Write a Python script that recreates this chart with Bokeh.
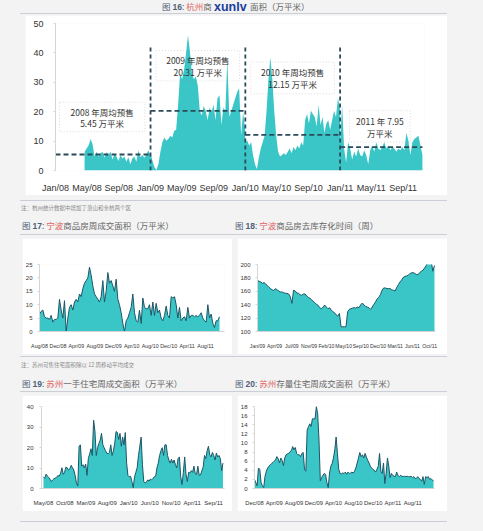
import numpy as np
import pandas as pd
from bokeh.plotting import figure
from bokeh.models import Range1d, FixedTicker, Div, Label, BoxAnnotation
from bokeh.layouts import column, row
from bokeh.embed import file_html
from bokeh.resources import INLINE

# ---------------- data ----------------
# Fig 16: Hangzhou weekly pre-sale area (10k m2), by year segment
HZ_2008 = [6.4, 7.5, 8.5, 10.7, 9, 4.8, 6.4, 4.8, 5.9, 6.4, 4.3, 6.2, 5.3, 6.4, 3.7, 5.6, 4.8, 3.2, 5.3, 4.1,
           4.8, 3, 4.5, 2.1, 4.1, 4.8, 3, 6.9, 4.5, 5.3, 4.3, 5.3, 6.9, 5.3]
HZ_2009 = [5.9, 3.2, 1.1, 0.2, 2.1, 6.4, 9.6, 11.2, 10.1, 10.7, 11.8, 11.2, 13.4, 13.9, 22.4, 33, 31, 34.2, 39.5, 46,
           40.6, 33, 31, 32, 28.8, 20.3, 18.7, 21.9, 20.3, 17.1, 21.4, 19.8, 22.4, 17.1, 24.6, 25.6, 15.5, 21.4, 20.3, 37.9,
           18.2, 20.3, 22.4, 24.6, 26.7, 28, 12, 20, 14]
HZ_2010 = [9.6, 10.1, 8.5, 9.6, 5.3, 2.1, 0.5, 4.3, 7.5, 9.6, 11.8, 20.3, 31, 38.5, 31, 20.3, 11.8, 6.4, 4.8, 5.3,
           5.9, 5.3, 6.4, 7.5, 5.9, 8, 6.9, 8.5, 7.5, 9.6, 8.5, 17.1, 19.2, 16, 20.3, 19.2, 18.2, 15, 22.4, 15.5,
           18.2, 12.8, 16, 17.1, 13.9, 17.1, 20.3, 18.2, 24.6, 21.4]
HZ_2011 = [9.6, 22.4, 7.5, 2.7, 9.6, 7.5, 3.7, 6.4, 4.8, 7.5, 5.3, 4.8, 6.9, 5.3, 2.1, 6.9, 8.5, 6.4, 9.6, 7.5,
           6.9, 8, 9.6, 7.5, 8.5, 6.9, 8, 7.5, 6.4, 7.5, 6.9, 8, 6.9, 12.8, 10.1, 5.3, 9.6, 10.7, 11.2, 11.8, 8.5, 5.3]
HZ_SEG_START = ["2008-04-22", "2009-01-01", "2010-01-01", "2011-01-01"]
HZ_SEG_END = ["2008-12-31", "2009-12-31", "2010-12-31", "2011-11-14"]
HZ_YEAR_START = ["2008-01-01", "2009-01-01", "2010-01-01", "2011-01-01"]
HZ_YEAR_END = ["2009-01-01", "2010-01-01", "2011-01-01", "2011-11-14"]
HZ_AVG = [5.45, 20.31, 12.15, 7.95]
HZ_AVG_TEXT1 = ["2008 年周均预售", "2009 年周均预售", "2010 年周均预售", "2011 年 7.95"]
HZ_AVG_TEXT2 = ["5.45 万平米", "20.31 万平米", "12.15 万平米", "万平米"]
HZ_TICKS = ["Jan/08", "May/08", "Sep/08", "Jan/09", "May/09", "Sep/09", "Jan/10", "May/10", "Sep/10",
            "Jan/11", "May/11", "Sep/11"]

# Fig 17: Ningbo weekly transaction area
NB_SALES = [6.5, 7.5, 8, 5.5, 5, 5, 4.5, 6, 3.5, 4.5, 4.5, 5, 12, 8, 5, 11.5, 0, 5, 9, 10, 8, 11, 12, 11, 14, 13, 16,
            18, 19, 20, 24, 21, 17, 14, 13, 12, 11, 13, 19, 11, 15, 22, 18, 19, 17, 15, 19.5, 12, 10, 7, 3, 0, 4, 5, 7,
            9, 14, 7, 4, 3.5, 8, 3, 12.5, 9, 8.5, 8.5, 10, 6, 11, 6, 10.5, 7, 8, 5, 4, 6, 9.5, 6, 5, 13, 12.5, 13, 10,
            5, 9, 4, 5, 5.5, 4, 9, 5, 6, 6, 5.5, 6, 5.5, 6, 7, 5, 4, 3.5, 10, 5, 6.5, 3, 1.5, 4, 4, 5.5]
NB_TICKS = ["Aug/08", "Dec/08", "Apr/09", "Aug/09", "Dec/09", "Apr/10", "Aug/10", "Dec/10", "Apr/11", "Aug/11"]

# Fig 18: Ningbo de-stocking time (weeks)
NB_WEEKS = [176, 175, 174, 172, 173, 171, 168.5, 166, 164, 162, 161.5, 164, 162, 160.5, 159, 159, 158, 157, 157, 156,
            152, 142, 161.5, 160.5, 157.5, 157, 155, 154, 156, 156, 153, 151, 149.5, 147.5, 145, 143, 140.5, 139,
            135.5, 134, 136.5, 139.5, 136.5, 134, 135.5, 132, 129.5, 128, 125, 123, 127, 107, 107, 107, 107, 129.5,
            133, 134, 135, 135.5, 135, 136.5, 135.5, 140, 142.5, 139.5, 137.5, 136.5, 135.5, 133, 136.5, 140.5, 144,
            148.5, 151, 155, 161.5, 165, 165, 164, 164, 164, 162, 161.5, 160.5, 166, 170, 174, 177, 181, 182, 183, 184,
            186.5, 187.5, 188, 186.5, 185, 185, 188, 190, 191.5, 195, 198.5, 205, 205, 205, 190, 198.5]
NB_WEEK_TICKS = ["Jan/09", "Apr/09", "Jul/09", "Nov/09", "Feb/10", "May/10", "Sep/10", "Dec/10", "Mar/11", "Jun/11",
                 "Oct/11"]
NB_WEEK_TICK_DATES = ["2009-01-05", "2009-04-15", "2009-07-25", "2009-11-03", "2010-02-12", "2010-05-24",
                      "2010-09-01", "2010-12-11", "2011-03-21", "2011-06-30", "2011-10-09"]

# Fig 19: Suzhou new-home weekly transaction area
SZ_NEW = [5.7, 5, 7, 6, 5.4, 4.5, 3.4, 4.2, 4.8, 5, 5.7, 6.3, 6, 7.5, 10.1, 6.9, 7.9, 10.4, 10.1, 9, 9.6, 11.3, 10.1,
          9, 6.4, 2.7, 1.2, 20.6, 21.3, 10.9, 11.6, 10.1, 11.9, 6.4, 14.6, 16.9, 19.4, 16.1, 33.3, 28, 16.1, 19.9, 22,
          23.6, 26.9, 21.3, 19.9, 18.4, 17.3, 16.9, 17.6, 21.3, 16.1, 18.4, 22, 27.8, 27.3, 23.9, 26.9, 20.6, 25.1,
          21.3, 27.3, 12.4, 6.4, 5.7, 6, 3.4, 0.4, 5.7, 7.9, 10.1, 16.1, 20.6, 25.1, 11.6, 3.4, 2.7, 3.1, 4.2, 3.6,
          4.6, 4.2, 4.9, 5.7, 6, 10.1, 12.4, 16.1, 18.4, 19.9, 16.1, 21.3, 21.3, 16.1, 13.9, 12.4, 14.3, 12.4, 13.9,
          11.6, 10.1, 14.6, 15.4, 5.7, 1.9, 7.9, 15.4, 6.9, 3.4, 7.9, 7.5, 8.7, 7.9, 10.9, 7.2, 6.9, 10.9, 6.4, 6.6,
          8.7, 10.4, 16.1, 14.6, 18.4, 20.6, 16.4, 15.4, 17.6, 16.1, 13.9, 17.3, 15.4, 16.1, 14.6, 8.7, 12.4]
SZ_NEW_TICKS = ["May/08", "Oct/08", "Mar/09", "Aug/09", "Jan/10", "Jun/10", "Nov/10", "Apr/11", "Sep/11"]

# Fig 20: Suzhou resale weekly transaction area
SZ_OLD = [2, 1.3, 0.6, 4.5, 4.2, 1.3, 0.6, 0.2, 2.7, 3.8, 4.5, 4.9, 5.2, 5.5, 5.7, 6, 6.3, 7, 6.5, 5.6, 6.7, 6.2, 5,
          6.7, 7.4, 7.6, 7.7, 8.1, 8.3, 9.2, 8.5, 9, 7.7, 7.4, 7.4, 7, 7.7, 7.9, 4.2, 3.8, 12.8, 13.6, 14.2, 13.6,
          15.3, 15.3, 15.3, 18, 16.4, 10.6, 1.7, 2.4, 2.9, 3.3, 3.1, 1.3, 0.2, 3.4, 4.9, 5.5, 6.7, 8.5, 11.3, 7.7,
          4.2, 3.3, 3.2, 3.4, 3.3, 3.6, 3.1, 3.6, 3.3, 3.4, 3.6, 3.4, 3.8, 4.5, 5.6, 6.7, 7.9, 7, 7.4, 6.7, 7.7, 6.9,
          6.2, 5.6, 4.9, 4.5, 4.2, 4, 3.6, 4.2, 4.9, 7.7, 3.8, 3.3, 5.6, 1.1, 3.3, 6.7, 4.9, 2.4, 3.3, 2.9, 2.7, 2.6,
          3.6, 2.9, 2.6, 2.9, 2.7, 2.6, 2.7, 2.6, 2.7, 2.6, 2.6, 2.7, 2.4, 2.6, 2.2, 2.2, 2.6, 2.2, 2, 1.6, 2.6, 0.9,
          2.6, 2.4, 2.6, 2, 2.2, 1.9, 1.6]
SZ_OLD_TICKS = ["Dec/08", "Apr/09", "Aug/09", "Dec/09", "Apr/10", "Aug/10", "Dec/10", "Apr/11", "Aug/11"]

# ---------------- helpers ----------------
ORIGIN = pd.Timestamp("2008-01-01")
TEAL = "#3ac6c7"
EDGE = "#1d5666"
DASHC = "#2b4a5a"
AX = "#d5d5d5"
NUMF = "Liberation Sans"
CJK = "Noto Sans CJK SC"


def days(d):
    return (pd.Timestamp(d) - ORIGIN) / pd.Timedelta(days=1)


def spread(vals, start, end):
    return np.linspace(days(start), days(end), len(vals))


def mticks(labels):
    return [int(round(days(pd.to_datetime(l, format="%b/%y")))) for l in labels]


def base_fig(w, h, xr, yr, bl, br, bt, bb, ml):
    p = figure(width=w, height=h, x_range=Range1d(*xr), y_range=Range1d(*yr),
               output_backend="svg", toolbar_location=None,
               min_border_left=bl, min_border_right=br, min_border_top=bt, min_border_bottom=bb,
               background_fill_color="white", border_fill_color="white", outline_line_color=None,
               margin=(0, 0, 0, ml))
    p.xgrid.visible = False
    p.ygrid.visible = False
    return p


def style_axes(p, xt, xl, yt, fs, ystand, xstand, xline=AX, xfs=None):
    p.xaxis.ticker = FixedTicker(ticks=xt, minor_ticks=[])
    p.xaxis.major_label_overrides = {t: l for t, l in zip(xt, xl)}
    p.xaxis.axis_line_color = xline
    p.xaxis.major_tick_line_color = None
    p.xaxis.minor_tick_line_color = None
    p.xaxis.major_label_text_font = NUMF
    p.xaxis.major_label_text_font_size = xfs or fs
    p.xaxis.major_label_text_color = "#333333"
    p.xaxis.major_label_standoff = xstand
    p.yaxis.ticker = FixedTicker(ticks=yt, minor_ticks=[])
    p.yaxis.axis_line_color = AX
    p.yaxis.major_tick_line_color = AX
    p.yaxis.major_tick_out = 2
    p.yaxis.major_tick_in = 0
    p.yaxis.minor_tick_line_color = None
    p.yaxis.major_label_text_font = NUMF
    p.yaxis.major_label_text_font_size = fs
    p.yaxis.major_label_text_color = "#333333"
    p.yaxis.major_label_standoff = ystand


# ---------------- Fig 16 ----------------
hz_x = np.concatenate([spread(v, s, e) for v, s, e in zip([HZ_2008, HZ_2009, HZ_2010, HZ_2011], HZ_SEG_START, HZ_SEG_END)])
hz_y = np.concatenate([HZ_2008, HZ_2009, HZ_2010, HZ_2011])
p16 = base_fig(422, 180, (0, days("2011-11-22")), (0, 50), 30, 23, 8, 20, 25)
p16.varea(x=hz_x, y1=0, y2=hz_y, fill_color=TEAL)
p16.segment(x0=[days(d) for d in HZ_YEAR_START], x1=[days(d) for d in HZ_YEAR_END], y0=HZ_AVG, y1=HZ_AVG,
            line_color=DASHC, line_width=1.8, line_dash="5 3")
p16.segment(x0=[days(d) for d in HZ_YEAR_START[1:]], x1=[days(d) for d in HZ_YEAR_START[1:]], y0=0, y1=42.4,
            line_color=DASHC, line_width=1.8, line_dash="4 3")
BOX_L = ["2008-01-16", "2009-01-22", "2010-01-22", "2011-02-06"]
BOX_R = ["2008-12-10", "2009-12-10", "2010-12-10", "2011-09-28"]
BOX_B = [13.2, 30.5, 26.1, 9.7]
BOX_T = [23.2, 40.8, 36.9, 20.3]
for i in range(4):
    p16.add_layout(BoxAnnotation(left=days(BOX_L[i]), right=days(BOX_R[i]), bottom=BOX_B[i], top=BOX_T[i],
                                 fill_alpha=0, line_color="#8a8a8a", line_width=1, line_dash="1 2"))
    cx = (days(BOX_L[i]) + days(BOX_R[i])) / 2
    h = BOX_T[i] - BOX_B[i]
    for txt, fr in ((HZ_AVG_TEXT1[i], 0.68), (HZ_AVG_TEXT2[i], 0.3)):
        p16.add_layout(Label(x=cx, y=BOX_B[i] + h * fr, text=txt, text_align="center", text_baseline="middle",
                             text_font=CJK, text_font_size="8.5px", text_color="#333333"))
t16 = mticks(HZ_TICKS)
style_axes(p16, t16, HZ_TICKS, [0, 10, 20, 30, 40, 50], "9px", 10, 6, xline=None)

# ---------------- Fig 17 ----------------
x17 = spread(NB_SALES, "2008-08-01", "2011-11-01")
p17 = base_fig(210, 116, (days("2008-08-01"), days("2011-12-04")), (0, 25), 17, 8, 6, 23, 22)
p17.varea(x=x17, y1=0, y2=NB_SALES, fill_color=TEAL)
p17.line(x=x17, y=NB_SALES, line_color=EDGE, line_width=1)
style_axes(p17, mticks(NB_TICKS), NB_TICKS, [0, 5, 10, 15, 20, 25], "6px", 5, 5, xfs="5.3px")

# ---------------- Fig 18 ----------------
x18 = spread(NB_WEEKS, "2009-01-05", "2011-11-06")
p18 = base_fig(210, 116, (days("2009-01-05"), days("2011-11-12")), (100, 200), 20, 12, 26, 22, 5)
p18.varea(x=x18, y1=100, y2=NB_WEEKS, fill_color=TEAL)
p18.line(x=x18, y=NB_WEEKS, line_color=EDGE, line_width=1)
style_axes(p18, [int(round(days(d))) for d in NB_WEEK_TICK_DATES], NB_WEEK_TICKS, [100, 120, 140, 160, 180, 200],
           "6px", 5, 5, xfs="5.1px")

# ---------------- Fig 19 ----------------
x19 = spread(SZ_NEW, "2008-05-01", "2011-11-07")
p19 = base_fig(210, 116, (days("2008-04-17"), days("2011-11-18")), (0, 40), 19, 8, 6, 23, 22)
p19.varea(x=x19, y1=0, y2=SZ_NEW, fill_color=TEAL)
p19.line(x=x19, y=SZ_NEW, line_color=EDGE, line_width=1)
style_axes(p19, mticks(SZ_NEW_TICKS), SZ_NEW_TICKS, [0, 10, 20, 30, 40], "6px", 6, 5)

# ---------------- Fig 20 ----------------
x20 = spread(SZ_OLD, "2008-12-01", "2011-12-07")
p20 = base_fig(210, 116, (days("2008-12-01"), days("2011-12-13")), (0, 18), 16, 13, 11, 23, 5)
p20.varea(x=x20, y1=0, y2=SZ_OLD, fill_color=TEAL)
p20.line(x=x20, y=SZ_OLD, line_color=EDGE, line_width=1)
style_axes(p20, mticks(SZ_OLD_TICKS), SZ_OLD_TICKS, list(range(0, 19, 2)), "6px", 5, 5, xfs="5.8px")

# ---------------- text blocks ----------------
LINE = "#c9ced7"
FIG = "#4e5f78"
CITY = "#e0625f"
GRAY = "#666666"


def hline(y):
    return f'<div style="position:absolute;left:20px;top:{y}px;width:427px;height:1px;background:{LINE};"></div>'


def title(left, top, num, city, rest):
    return (f'<div style="position:absolute;left:{left}px;top:{top}px;white-space:nowrap;font-family:\'{CJK}\';'
            f'font-size:8.5px;line-height:10px;color:{GRAY};">'
            f'<span style="color:{FIG};">图 <b style="font-family:\'{NUMF}\';">{num}</b>:</span> '
            f'<span style="color:{CITY};">{city}</span>{rest}</div>')


def note(top, txt):
    return (f'<div style="position:absolute;left:21px;top:{top}px;white-space:nowrap;font-family:\'{CJK}\';'
            f'font-size:5.5px;line-height:7px;color:#8a8a8a;">{txt}</div>')


def box(h, inner):
    return Div(width=467, height=h, margin=0,
               text=f'<div style="position:relative;width:467px;height:{h}px;overflow:visible;">{inner}</div>')


d_top = box(15, title(162, 1, "16", "杭州", "商")
            + f'<div style="position:absolute;left:250px;top:1px;white-space:nowrap;font-family:\'{CJK}\';'
              f'font-size:8.5px;line-height:10px;color:{GRAY};">面积（万平米）</div>'
            + f'<div style="position:absolute;left:214px;top:0px;height:14px;font-family:\'{NUMF}\';font-weight:bold;'
              'font-size:12.5px;line-height:14px;color:#1b3d9e;white-space:nowrap;">xunlv</div>'
            + hline(13))
d_mid1 = box(43, hline(5) + note(10, "注：杭州统计数据中增加了萧山和余杭两个区")
             + title(22, 25, "17", "宁波", "商品房周成交面积（万平米）")
             + title(235, 25, "18", "宁波", "商品房去库存化时间（周）") + hline(39))
d_mid2 = box(41, hline(2) + note(8, "注：苏州可售住宅面积除以 12 周移动平均成交")
             + title(22, 24, "19", "苏州", "一手住宅周成交面积（万平米）")
             + title(235, 24, "20", "苏州", "存量住宅周成交面积（万平米）") + hline(37))
d_bot = box(4, hline(2))

layout = column(d_top, p16, d_mid1, row(p17, p18), d_mid2, row(p19, p20), d_bot,
                width=467, height=515, spacing=0, styles={"background-color": "#f3f3f3"})
try:
    from bokeh.models import GlobalInlineStyleSheet
    layout.stylesheets = [GlobalInlineStyleSheet(css="body{background:#f3f3f3;}")]
except Exception:
    pass

open("out.html", "w").write(file_html(layout, INLINE))
